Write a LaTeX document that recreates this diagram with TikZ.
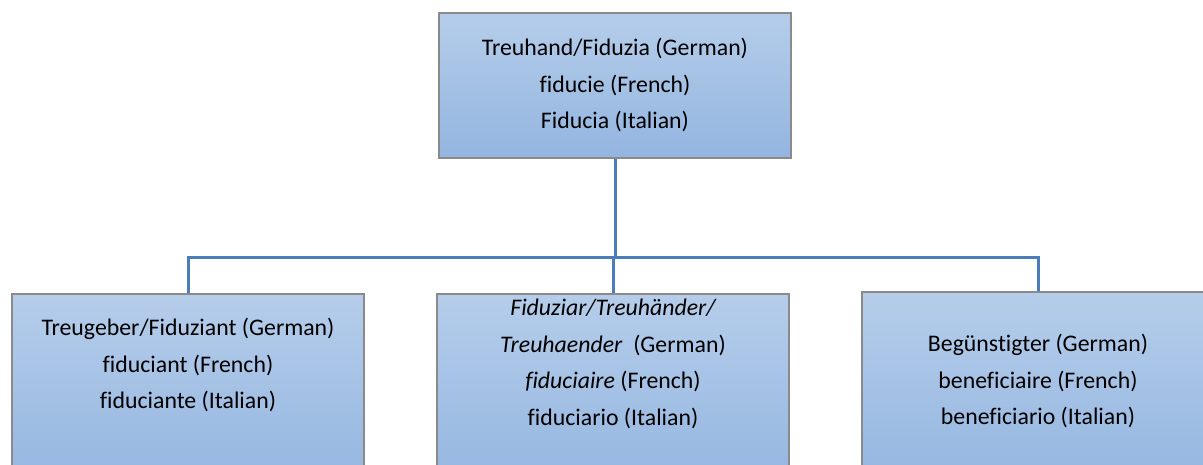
\documentclass[tikz,border=0pt]{standalone}
\usepackage{fontspec}
\setmainfont{Carlito}[Ligatures=NoCommon]
\definecolor{boxtop}{HTML}{B5CDEA}
\definecolor{boxbot}{HTML}{93B5E0}
\definecolor{boxline}{HTML}{8A8A8A}
\definecolor{connline}{HTML}{4A7EBB}
\tikzset{
  box/.style={rectangle, draw=boxline, line width=1.3pt, top color=boxtop, bottom color=boxbot, inner sep=0pt},
  label/.style={align=center, font=\fontsize{23.8}{36.5}\selectfont, inner sep=0pt, text=black},
  conn/.style={draw=connline, line width=3pt}
}
\begin{document}
\begin{tikzpicture}[x=1pt,y=-1pt]
\useasboundingbox (0,0) rectangle (1203,465);
\clip (0,0) rectangle (1203,465);
\fill[white] (0,0) rectangle (1203,465);
% boxes
\node[box, minimum width=352pt, minimum height=145pt] (top) at (615,85.5) {};
\node[box, minimum width=352pt, minimum height=200pt] (left) at (188,394) {};
\node[box, minimum width=352pt, minimum height=200pt] (mid) at (613,394) {};
\node[box, minimum width=352pt, minimum height=200pt] (right) at (1038,392) {};
% texts
\node[label] (ttop) at (615,85) {Treuhand/Fiduzia (German)\\fiducie (French)\\Fiducia (Italian)};
\node[label] (tleft) at (188,365) {Treugeber/Fiduziant (German)\\fiduciant (French)\\fiduciante (Italian)};
\node[label] (tmid) at (613,364) {\itshape Fiduziar/Treuhänder/\\\textit{Treuhaender}\ \ (German)\\\textit{fiduciaire} (French)\\fiduciario (Italian)};
\node[label] (tright) at (1038,381) {Begünstigter (German)\\beneficiaire (French)\\beneficiario (Italian)};
% connectors
\coordinate (bus) at (615,258);
\draw[conn] (top.south) -- (top.south |- bus);
\draw[conn] (left.north) -- (left.north |- bus) -- (right.north |- bus) -- (right.north);
\draw[conn] (mid.north) -- (mid.north |- bus);
\end{tikzpicture}
\end{document}
